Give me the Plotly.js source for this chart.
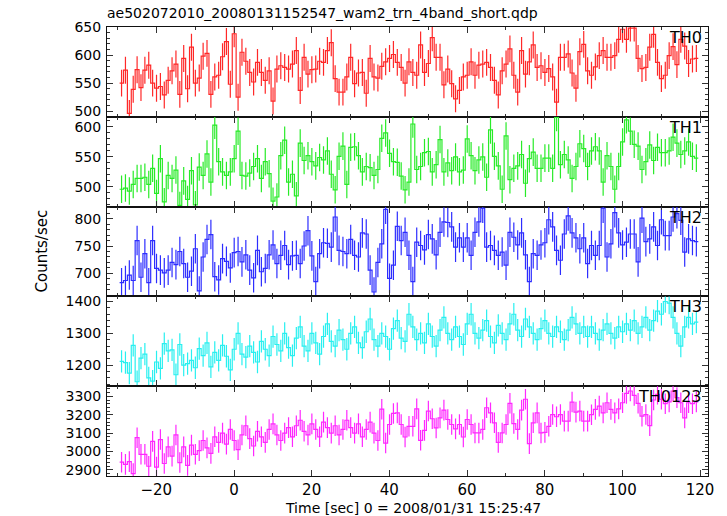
<!DOCTYPE html>
<html><head><meta charset="utf-8">
<script src="https://cdn.plot.ly/plotly-3.0.1.min.js"></script>
<style>html,body{margin:0;padding:0;background:#fff}</style>
</head><body><div id="chart" style="width:727px;height:516px"></div>
<script>
// Time bins (1 s) — first bin starts at this time (sec)
const binStart = -29.45;
const binWidth = 1.0;

const bands = ['TH0', 'TH1', 'TH2', 'TH3', 'TH0123'];

const th0 = [550,573,496,539,574,542,573,582,550,541,544,529,555,572,584,530,594,540,614,550,
559,598,603,530,561,564,597,624,548,638,525,605,589,569,552,587,569,555,572,518,
575,581,578,575,584,608,537,596,566,574,575,589,587,608,622,558,534,534,561,596,
549,568,569,532,594,561,559,580,588,594,601,587,578,550,588,569,
564,618,569,585,631,596,596,547,575,549,522,537,561,564,588,564,582,584,587,578,
555,529,572,584,611,564,534,608,566,588,618,578,581,569,576,561,516,596,596,602,
568,541,606,619,572,564,579,599,608,596,596,599,628,646,628,648,648,594,576,578,
614,637,587,558,564,599,615,583,628,616,585,593,594];

const th1 = [496,498,493,504,514,514,516,504,531,489,547,475,519,514,528,469,510,479,527,470,
533,519,555,508,603,542,525,519,525,547,593,519,518,523,534,547,514,542,522,476,
483,552,578,508,521,485,573,544,552,542,535,549,545,560,521,495,551,568,504,566,
567,552,525,534,532,519,529,581,590,556,542,541,518,495,508,
605,529,534,557,559,525,537,579,525,540,527,550,525,528,580,552,527,545,550,516,
595,551,535,496,585,512,531,535,554,506,547,558,531,531,548,548,531,616,537,554,
545,514,534,572,564,534,560,567,560,508,552,534,496,534,575,612,593,571,568,529,
542,570,544,566,557,557,560,583,573,554,560,575,551,548];

const th2 = [683,687,697,687,760,693,736,683,760,709,706,701,706,720,716,740,718,693,704,745,
668,730,762,771,694,688,727,722,710,738,740,721,734,706,692,742,703,709,734,752,
718,733,751,716,732,733,718,750,778,732,685,736,756,755,748,803,742,740,736,762,
733,730,774,772,706,666,720,754,817,691,715,786,760,775,733,
685,757,751,743,771,763,734,775,794,793,785,748,765,748,765,733,775,794,819,748,
751,742,733,739,715,775,766,752,774,734,685,736,733,752,756,798,785,742,724,772,
805,774,765,745,765,718,751,733,751,819,730,754,811,774,752,757,772,772,721,801,
758,763,785,751,798,769,769,803,809,797,739,763,760,758];

const th3 = [1212,1208,1175,1262,1148,1222,1235,1160,1150,1210,1190,1268,1245,1248,1170,1265,1200,1205,1215,1192,
1252,1230,1270,1195,1240,1215,1262,1228,1185,1250,1300,1235,1225,1260,1240,1210,1275,1250,1230,1290,
1265,1245,1300,1255,1230,1285,1320,1260,1245,1300,1270,1235,1290,1330,1275,1260,1310,1280,1250,1300,
1320,1270,1255,1305,1345,1280,1260,1300,1290,1250,1315,1340,1285,1275,1360,1320,1280,1300,1270,1330,
1290,1260,1310,1350,1300,1280,1320,1290,1265,1330,1360,1300,1285,1310,1340,1290,1270,1325,1300,1280,
1330,1360,1310,1290,1345,1320,1300,1280,1315,1340,1300,1290,1320,1305,1280,1310,1350,1330,1300,1320,
1290,1320,1300,1280,1310,1330,1300,1285,1320,1305,1330,1310,1340,1300,1320,1350,1310,1340,1370,1360,
1400,1395,1350,1300,1260,1320,1350,1330,1335];

const th0123 = [2942,2930,2945,2880,3075,2985,2985,2920,3055,2915,3065,2935,3025,2975,3090,2940,3025,2925,3035,2985,3005,
3060,3020,2990,3080,3050,3100,3040,3120,3060,3010,3090,3140,3070,3030,3110,3080,3050,3120,3150,3090,
3060,3100,3130,3080,3140,3170,3110,3090,3150,3120,3080,3160,3130,3100,3140,3090,3120,3170,3130,3100,
3150,3080,3120,3160,3100,3060,
3230,3046,3147,3207,3210,3147,3079,3137,3137,3232,3061,3115,3220,3178,3128,3183,3225,3174,3147,3123,
3147,3079,3174,3147,3101,3101,3120,3238,3210,3156,3050,3101,3147,3262,3152,3120,3225,3284,3043,3156,3210,
3101,3104,3137,3201,3189,3201,3165,3165,3269,3214,3220,3165,3165,3200,3229,3247,3210,3265,3229,3210,3232,
3265,3316,3329,3305,3262,3192,3201,3141,3280,3311,3284,3260,3270,3329,3293,3265,3183,3265,3260,
3270];

const series = [th0, th1, th2, th3, th0123];
// typical 1-sigma error per band (counts/sec)
const errors = [24, 23, 27, 35, 56];

const colors = ['rgb(255,40,40)', 'rgb(40,235,40)', 'rgb(45,45,255)', 'rgb(40,240,240)', 'rgb(255,40,255)'];
const yRanges = [[490, 650], [467, 617], [658, 822], [1134, 1416], [2867, 3355]];
const yDtick = [50, 50, 50, 100, 100];
const yMinor = [10, 10, 10, 20, 20];
const xRange = [-32.7, 122.05];

const FONT = 'DejaVu Sans, Liberation Sans, Arial, sans-serif';
const traces = [];
const layout = {
  width: 727, height: 516,
  margin: {l: 107, r: 19, t: 27, b: 40},
  paper_bgcolor: '#fff', plot_bgcolor: '#fff',
  showlegend: false,
  font: {family: FONT, size: 15, color: '#000'},
  title: {text: 'ae502072010_20080131152547_wam2_trn_4band_short.qdp',
          x: 107/727, xanchor: 'left', xref: 'container', y: 1 - 13/516, yanchor: 'middle', yref: 'container',
          font: {family: FONT, size: 14, color: '#000'}},
  annotations: []
};

const n = series.length;
for (let k = 0; k < n; k++) {
  const vals = series[k];
  const centers = vals.map((v, i) => binStart + binWidth * (i + 0.5));
  const edges = vals.map((v, i) => binStart + binWidth * i);
  edges.push(binStart + binWidth * vals.length);
  const stepY = vals.concat([vals[vals.length - 1]]);
  const xa = 'x' + (k === 0 ? '' : k + 1);
  const ya = 'y' + (k === 0 ? '' : k + 1);
  traces.push({x: edges, y: stepY, xaxis: xa, yaxis: ya, type: 'scatter', mode: 'lines',
    line: {shape: 'hv', color: colors[k], width: 1.2}, hoverinfo: 'skip', cliponaxis: true});
  traces.push({x: centers, y: vals, xaxis: xa, yaxis: ya, type: 'scatter', mode: 'markers',
    marker: {size: 1, opacity: 0}, cliponaxis: true,
    error_y: {type: 'constant', value: errors[k], color: colors[k], thickness: 1.2, width: 0}});

  const top = 1 - k / n, bot = 1 - (k + 1) / n;
  const last = (k === n - 1);
  layout['xaxis' + (k === 0 ? '' : k + 1)] = {
    domain: [0, 1], anchor: ya, range: xRange, dtick: 20, tick0: 0,
    ticks: 'inside', ticklen: 6, tickwidth: 1, tickcolor: '#333',
    minor: {dtick: 10, ticks: 'inside', ticklen: 3, tickcolor: '#333'},
    showline: true, linecolor: '#111', linewidth: 1, mirror: 'allticks',
    showgrid: false, zeroline: false, showticklabels: last,
    tickfont: {family: FONT, size: 15, color: '#000'},
    matches: k === 0 ? undefined : 'x'
  };
  layout['yaxis' + (k === 0 ? '' : k + 1)] = {
    domain: [bot, top], anchor: xa, range: yRanges[k], dtick: yDtick[k], tick0: 0,
    ticks: 'inside', ticklen: 6, tickwidth: 1, tickcolor: '#333',
    minor: {dtick: yMinor[k], ticks: 'inside', ticklen: 3, tickcolor: '#333'},
    showline: true, linecolor: '#111', linewidth: 1, mirror: 'allticks',
    showgrid: false, zeroline: false, ticklabelstandoff: 2,
    tickfont: {family: FONT, size: 14, color: '#000'}
  };
  layout.annotations.push({text: bands[k], xref: 'paper', yref: 'paper',
    x: 1 - 4/601, xanchor: 'right', y: top - 10.5/449, yanchor: 'middle',
    showarrow: false, font: {family: FONT, size: 16, color: '#000'}});
}
layout.annotations.push({text: 'Counts/sec', xref: 'paper', yref: 'paper',
  x: (41 - 107) / 601, xanchor: 'center', y: 0.5, yanchor: 'middle', textangle: -90,
  showarrow: false, font: {family: FONT, size: 15, color: '#000'}});
layout.annotations.push({text: 'Time [sec] 0 = 2008/01/31 15:25:47', xref: 'paper', yref: 'paper',
  x: (413 - 107) / 601, xanchor: 'center', y: -32 / 449, yanchor: 'middle',
  showarrow: false, font: {family: FONT, size: 14, color: '#000'}});

Plotly.newPlot('chart', traces, layout, {displayModeBar: false, staticPlot: true});
</script></body></html>
